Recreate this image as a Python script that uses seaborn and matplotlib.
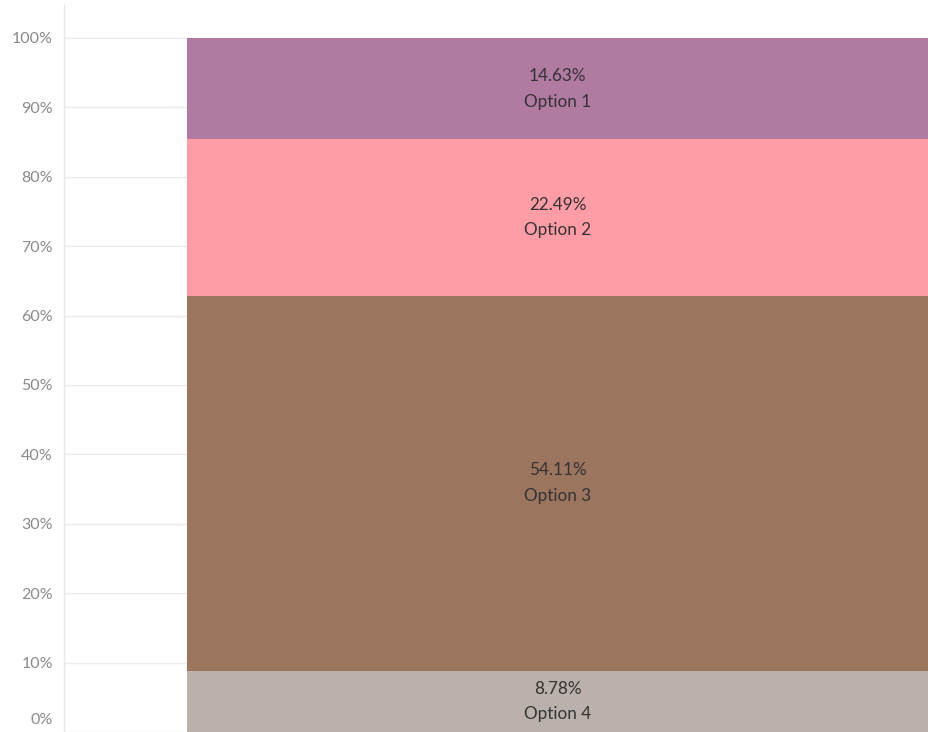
import matplotlib
matplotlib.use("Agg")
import matplotlib.pyplot as plt
from matplotlib.transforms import ScaledTranslation
import seaborn as sns
import pandas as pd
import numpy as np

# Data (stacked from bottom: Option 4, Option 3, Option 2, Option 1)
options = ["Option 4", "Option 3", "Option 2", "Option 1"]
shares = [8.78, 54.11, 22.49, 14.63]
colors = ["#BAB0AC", "#9C755F", "#FF9DA7", "#B07AA1"]
tick_values = [0, 10, 20, 30, 40, 50, 60, 70, 80, 90, 100]
tick_labels = ["0%", "10%", "20%", "30%", "40%", "50%", "60%", "70%", "80%", "90%", "100%"]

sns.set_theme(style="white")
plt.rcParams["font.family"] = ["Lato", "DejaVu Sans"]

W, H = 929, 732
fig = plt.figure(figsize=(W / 100, H / 100), dpi=100)
ax_left, ax_top, ax_bottom = 64, 5, 732
ax = fig.add_axes([ax_left / W, (H - ax_bottom) / H, (W - ax_left) / W, (ax_bottom - ax_top) / H])

tops = np.cumsum(shares)
bottoms = tops - np.array(shares)
df = pd.DataFrame({"cat": ["A"] * len(options), "option": options,
                   "share": shares, "top": tops, "bottom": bottoms})

# draw from tallest cumulative layer to shortest so lower segments sit on top
for i in range(len(options) - 1, -1, -1):
    sub = df.iloc[[i]]
    sns.barplot(data=sub, x="cat", y="top", color=colors[i], saturation=1,
                width=0.8, ax=ax, zorder=2, linewidth=0)

# segment labels
for _, r in df.iterrows():
    mid = (r["top"] + r["bottom"]) / 2
    ax.text(-0.003, mid, f"{r['share']:.2f}%\n{r['option']}", ha="center", va="center",
            fontsize=12.3, color="#333333", linespacing=1.75, zorder=3)

# axes limits: bar left edge at pixel 188, clipped at right
d = 0.1322
ax.set_xlim(-0.4 - d, 0.395)
ax.set_ylim(0, 104.75)

ax.set_yticks(tick_values)
ax.set_yticklabels(tick_labels)
ax.tick_params(axis="y", length=0, pad=8, labelsize=11.5, labelcolor="#8a8a8a")
ax.set_xticks([])
ax.set_xlabel("")
ax.set_ylabel("")

for v in tick_values:
    ax.axhline(v, color="#ececec", linewidth=1, zorder=1)

for s in ["top", "right", "bottom"]:
    ax.spines[s].set_visible(False)
ax.spines["left"].set_color("#e6e6e6")
ax.spines["left"].set_linewidth(1)

# shift 0% label up like the reference
lbl0 = ax.get_yticklabels()[0]
lbl0.set_transform(lbl0.get_transform() + ScaledTranslation(0, 0.13, fig.dpi_scale_trans))

fig.savefig("out.png", dpi=100)
